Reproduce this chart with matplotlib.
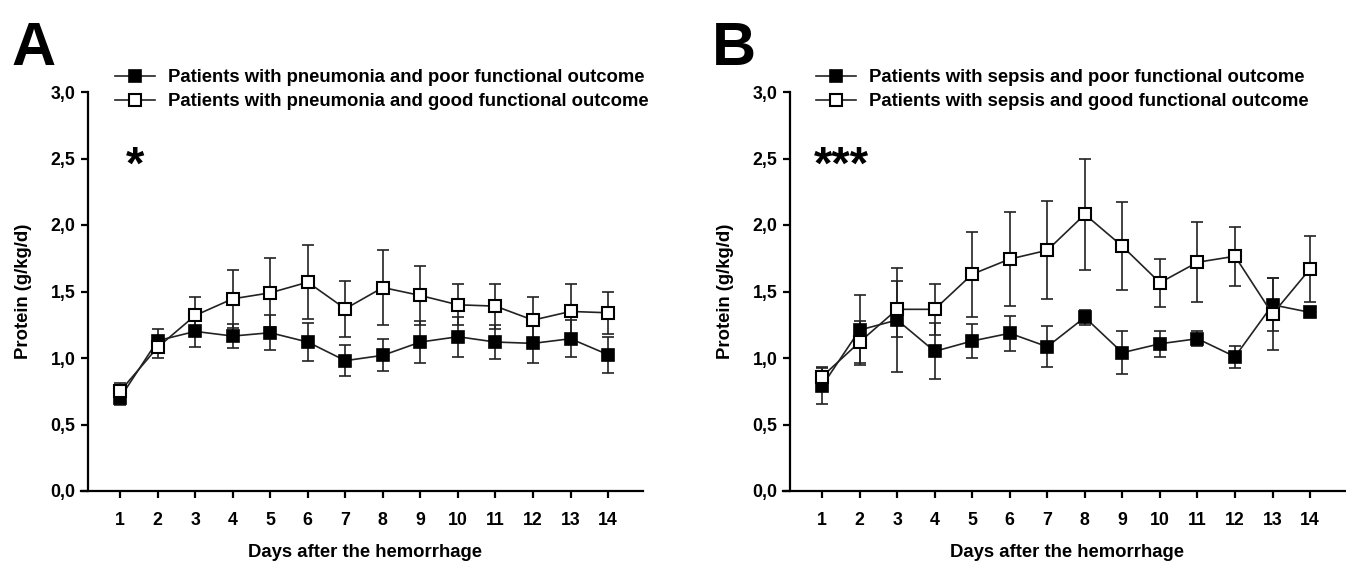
import numpy as np
import matplotlib.pyplot as plt
from matplotlib.ticker import FixedLocator

plt.rcParams['font.family'] = ['Liberation Sans', 'DejaVu Sans']
plt.rcParams['font.weight'] = 'bold'

days = np.arange(1, 15)
ytick_vals = [0.0, 0.5, 1.0, 1.5, 2.0, 2.5, 3.0]
ytick_labels = ['0,0', '0,5', '1,0', '1,5', '2,0', '2,5', '3,0']

# panel A: pneumonia
pneu_poor = [0.70, 1.13, 1.20, 1.165, 1.19, 1.12, 0.98, 1.02, 1.12, 1.16, 1.12, 1.11, 1.145, 1.025]
pneu_poor_err = [0.05, 0.09, 0.12, 0.09, 0.13, 0.14, 0.115, 0.12, 0.155, 0.15, 0.13, 0.15, 0.14, 0.135]
pneu_good = [0.75, 1.08, 1.32, 1.445, 1.49, 1.57, 1.37, 1.53, 1.47, 1.40, 1.39, 1.285, 1.35, 1.34]
pneu_good_err = [0.06, 0.08, 0.14, 0.22, 0.26, 0.28, 0.21, 0.28, 0.22, 0.155, 0.17, 0.17, 0.21, 0.16]

# panel B: sepsis
seps_poor = [0.79, 1.21, 1.286, 1.05, 1.128, 1.186, 1.085, 1.306, 1.04, 1.107, 1.145, 1.01, 1.40, 1.343]
seps_poor_err = [0.135, 0.26, 0.39, 0.21, 0.13, 0.13, 0.155, 0.055, 0.16, 0.097, 0.057, 0.083, 0.20, 0.0]
seps_good = [0.86, 1.12, 1.366, 1.366, 1.63, 1.744, 1.81, 2.08, 1.84, 1.566, 1.72, 1.765, 1.33, 1.67]
seps_good_err = [0.075, 0.16, 0.21, 0.19, 0.32, 0.35, 0.37, 0.42, 0.33, 0.18, 0.30, 0.22, 0.27, 0.25]

W, H = 1346, 563
fig = plt.figure(figsize=(W / 100, H / 100), dpi=100)

FS = 13.3


def panel(left_px, poor, poor_err, good, good_err, labels, letter, stars, star_x, leg_px, letter_px):
    ax = fig.add_axes([left_px / W, (H - 491) / H, 555 / W, 399 / H])
    for vals, err in [(poor, poor_err), (good, good_err)]:
        ax.errorbar(days, vals, yerr=err, fmt='none', ecolor='#222222',
                    elinewidth=1.2, capsize=4.3, capthick=1.2, zorder=2)
    h1, = ax.plot(days, poor, color='#222222', lw=1.2, marker='s', ms=9,
                  mfc='black', mec='black', mew=1.2, zorder=3)
    h2, = ax.plot(days, good, color='#222222', lw=1.2, marker='s', ms=9,
                  mfc='white', mec='black', mew=1.5, zorder=4)
    ax.set_xlim(0.146, 14.93)
    ax.set_ylim(0, 3)
    ax.spines['top'].set_visible(False)
    ax.spines['right'].set_visible(False)
    ax.spines['left'].set_linewidth(1.6)
    ax.spines['bottom'].set_linewidth(1.6)
    ax.spines['left'].set_bounds(0, 3)
    ax.spines['bottom'].set_bounds(-0.04, 14.93)
    ax.xaxis.set_major_locator(FixedLocator(days))
    ax.set_xticklabels([str(d) for d in days])
    ax.set_yticks(ytick_vals)
    ax.set_yticklabels(ytick_labels)
    ax.tick_params(axis='both', direction='out', width=1.6, length=5,
                   labelsize=12.8)
    ax.tick_params(axis='x', pad=10)
    ax.tick_params(axis='y', pad=4)
    for t in ax.get_xticklabels() + ax.get_yticklabels():
        t.set_fontweight('bold')
    ax.set_xlabel('Days after the hemorrhage', fontsize=FS, fontweight='bold', labelpad=11)
    ax.set_ylabel('Protein (g/kg/d)', fontsize=FS, fontweight='bold', labelpad=13)
    ax.text(star_x, 2.35, stars, fontsize=34, fontweight='bold', va='baseline', ha='left')
    ax.legend([h1, h2], labels, loc='upper left', frameon=False,
              bbox_to_anchor=(leg_px / W, 1 - 69 / H), bbox_transform=fig.transFigure,
              borderpad=0, borderaxespad=0, handlelength=2.16, handletextpad=0.7,
              labelspacing=0.38, prop={'size': FS, 'weight': 'bold'})
    fig.text(letter_px / W, 1 - 65 / H, letter, fontsize=44, fontweight='bold',
             va='baseline', ha='left')
    return ax


panel(88, pneu_poor, pneu_poor_err, pneu_good, pneu_good_err,
      ['Patients with pneumonia and poor functional outcome',
       'Patients with pneumonia and good functional outcome'],
      'A', '*', 1.16, 115, 11)
panel(790, seps_poor, seps_poor_err, seps_good, seps_good_err,
      ['Patients with sepsis and poor functional outcome',
       'Patients with sepsis and good functional outcome'],
      'B', '***', 0.78, 816, 712)

fig.savefig('out.png', dpi=100)
